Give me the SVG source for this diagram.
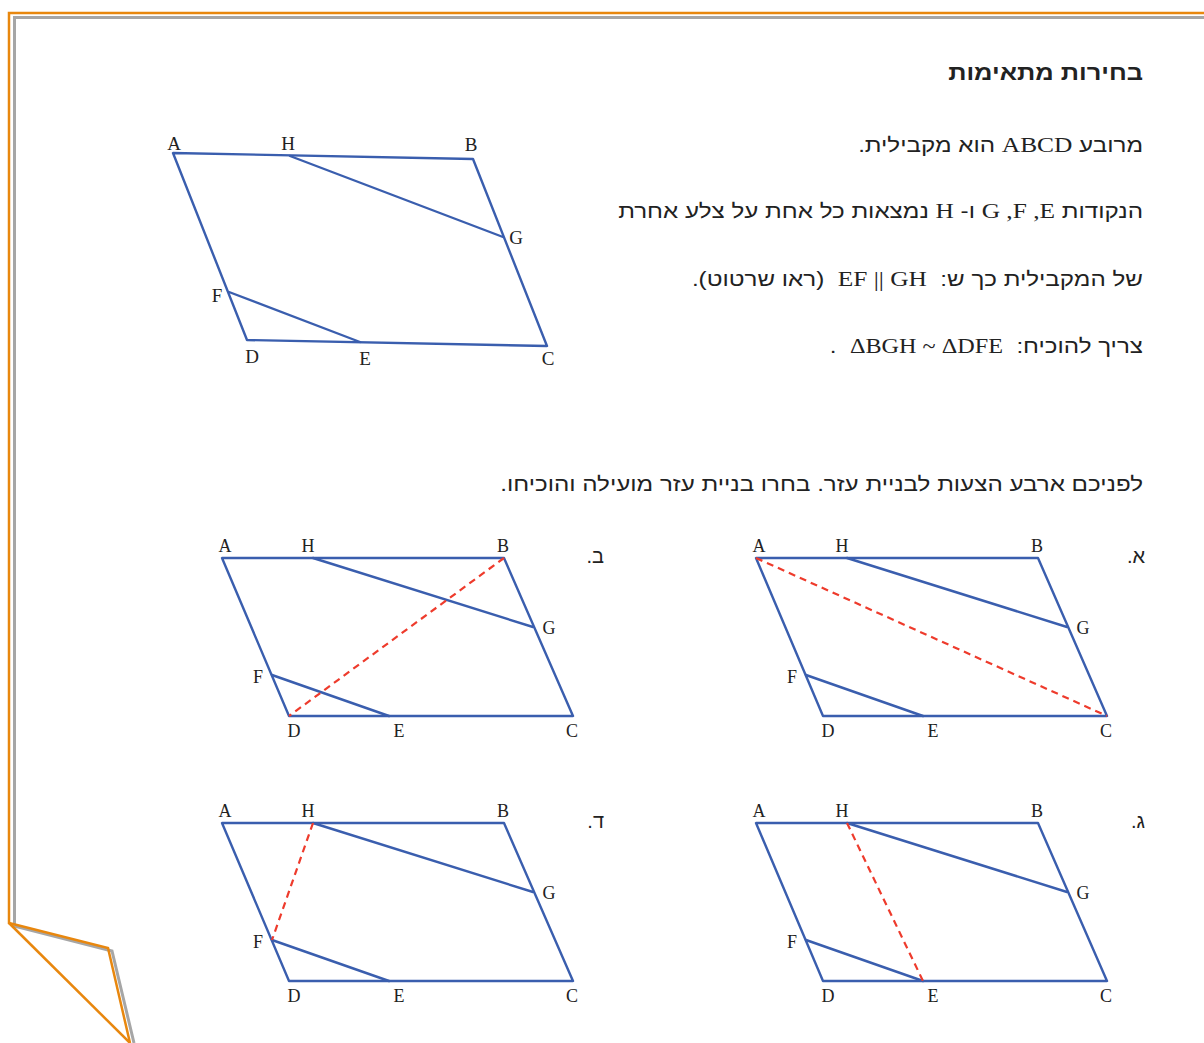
<svg xmlns="http://www.w3.org/2000/svg" xmlns:xlink="http://www.w3.org/1999/xlink" width="1204" height="1043" viewBox="0 0 1204 1043">
<style>
.heb{font-family:"Liberation Sans","DejaVu Sans",sans-serif;font-size:20px;fill:#222;direction:rtl;text-anchor:start}
.lat{font-family:"Liberation Serif",serif;font-size:21px}
.ttl{font-weight:bold;font-size:21px}
.ln{fill:none;stroke:#3a5eae;stroke-width:2.4;stroke-linejoin:round;stroke-linecap:round}
.dash{fill:none;stroke:#ee3b2c;stroke-width:2.2;stroke-dasharray:7 5}
.lb{font-family:"Liberation Serif",serif;font-size:19px;fill:#222;text-anchor:middle}
.sl{font-family:"Liberation Serif",serif;font-size:18px;fill:#222;text-anchor:middle}
.or{fill:none;stroke:#e8870e;stroke-width:2.5;stroke-linejoin:miter}
.gr{fill:none;stroke:#a6a6a6;stroke-width:3}
</style>
<defs>
<g id="fig">
<polygon class="ln" points="756,558 1038,558 1107,716 823,716"/>
<line class="ln" x1="847" y1="558" x2="1067" y2="627"/>
<line class="ln" x1="806" y1="675" x2="923" y2="716"/>
<text class="sl" x="759" y="552">A</text>
<text class="sl" x="842" y="552">H</text>
<text class="sl" x="1037" y="552">B</text>
<text class="sl" x="1083" y="634">G</text>
<text class="sl" x="792" y="683">F</text>
<text class="sl" x="828" y="737">D</text>
<text class="sl" x="933" y="737">E</text>
<text class="sl" x="1106" y="737">C</text>
</g>
</defs>
<rect width="1204" height="1043" fill="#fff"/>
<g id="frame">
<polyline class="gr" points="1204,17.5 14.5,17.5 14.5,926 112,951 134,1043"/>
<polyline class="or" points="1204,13 9,13 9,923 108,948 130,1043"/>
<line class="or" x1="9" y1="923" x2="130" y2="1043"/>
</g>
<g id="text" transform="translate(1143,0) scale(1.21,1) translate(-1143,0)">
<text class="heb ttl" x="1143" y="80">בחירות מתאימות</text>
<text class="heb" x="1143" y="152">מרובע <tspan class="lat">ABCD</tspan> הוא מקבילית.</text>
<text class="heb" x="1143" y="218">הנקודות <tspan class="lat">E,&#x200F; F,&#x200F; G</tspan> ו- <tspan class="lat">H</tspan> נמצאות כל אחת על צלע אחרת</text>
<text class="heb" x="1143" y="286" xml:space="preserve">של המקבילית כך ש:  <tspan class="lat">EF || GH</tspan>  (ראו שרטוט).</text>
<text class="heb" x="1143" y="353" xml:space="preserve">צריך להוכיח:  <tspan class="lat" style="font-size:20px">ΔBGH ~ ΔDFE</tspan>  .</text>
<text class="heb" x="1143" y="491">לפניכם ארבע הצעות לבניית עזר. בחרו בניית עזר מועילה והוכיחו.</text>
</g>
<g id="main-figure">
<polygon class="ln" points="173,153 473,159 547,346 247,340"/>
<line class="ln" x1="290" y1="156" x2="503" y2="237"/>
<line class="ln" x1="229" y1="292" x2="360" y2="342"/>
<text class="lb" x="174" y="150">A</text>
<text class="lb" x="288" y="150">H</text>
<text class="lb" x="471" y="151">B</text>
<text class="lb" x="516" y="244">G</text>
<text class="lb" x="217" y="302">F</text>
<text class="lb" x="252" y="363">D</text>
<text class="lb" x="365" y="365">E</text>
<text class="lb" x="548" y="365">C</text>
</g>
<g id="option-alef">
<use xlink:href="#fig"/>
<line class="dash" x1="756" y1="558" x2="1107" y2="716"/>
<text class="heb" x="1145" y="563">א.</text>
</g>
<g id="option-bet">
<use xlink:href="#fig" transform="translate(-534,0)"/>
<line class="dash" x1="504" y1="558" x2="289" y2="716"/>
<text class="heb" x="604" y="563">ב.</text>
</g>
<g id="option-gimel">
<use xlink:href="#fig" transform="translate(0,265)"/>
<line class="dash" x1="847" y1="823" x2="923" y2="981"/>
<text class="heb" x="1145" y="828">ג.</text>
</g>
<g id="option-dalet">
<use xlink:href="#fig" transform="translate(-534,265)"/>
<line class="dash" x1="313" y1="823" x2="272" y2="940"/>
<text class="heb" x="604" y="828">ד.</text>
</g>
</svg>
